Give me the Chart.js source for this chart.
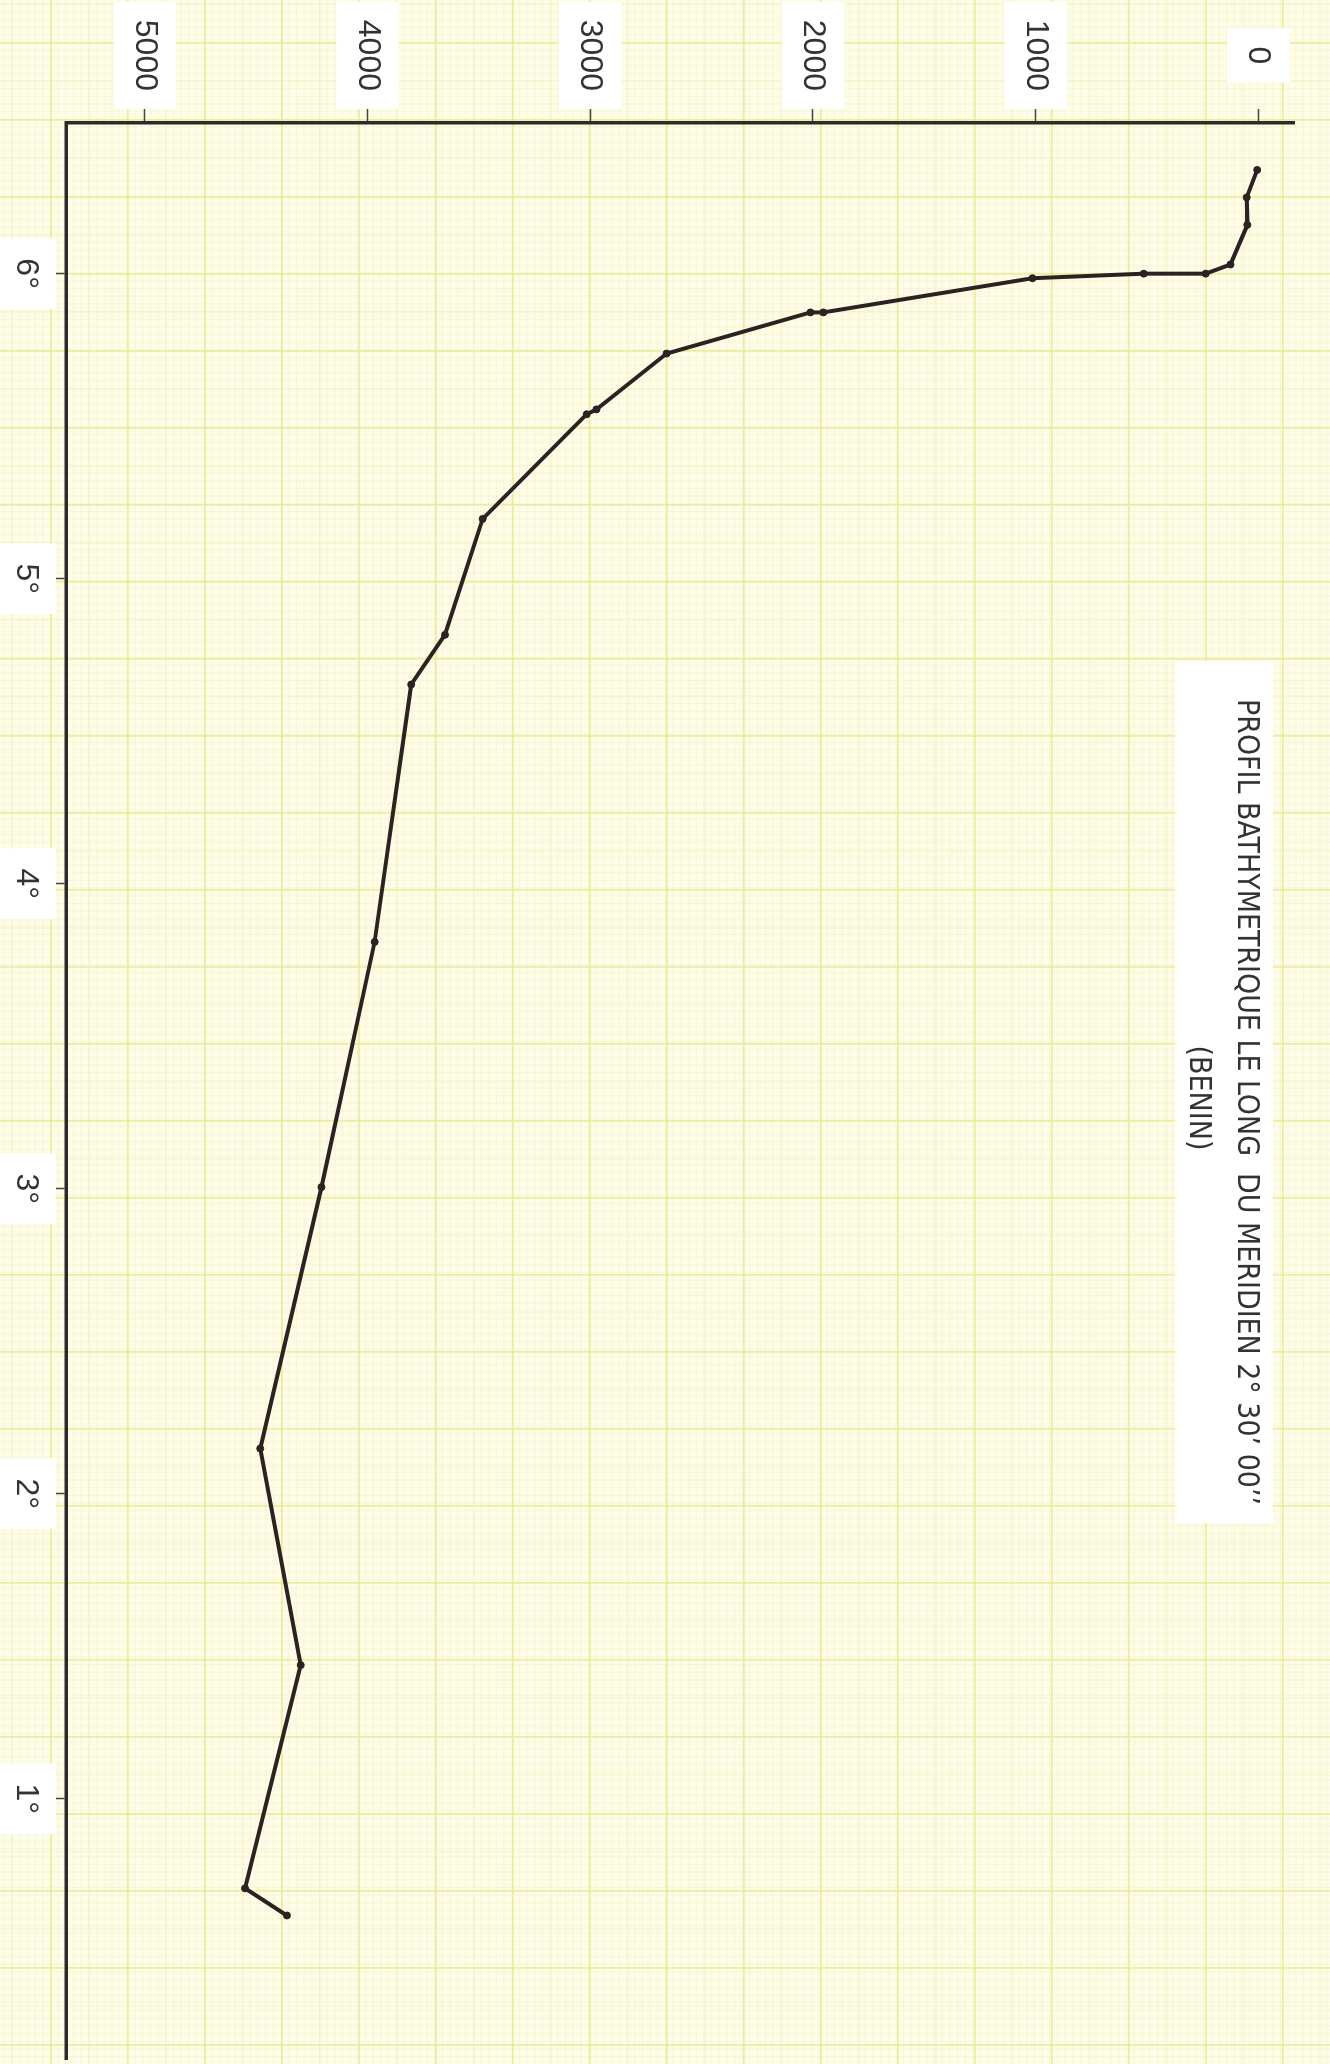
<!DOCTYPE html>
<html lang="fr">
<head>
<meta charset="utf-8">
<title>Profil bathymétrique le long du méridien 2° 30' 00''</title>
<script src="https://cdn.jsdelivr.net/npm/chart.js@4.4.1/dist/chart.umd.min.js"></script>
<style>
  html, body { margin: 0; padding: 0; }
  body {
    width: 1330px;
    height: 2064px;
    overflow: hidden;
    position: relative;
    /* graph paper */
    background-color: #fdfce6;
    background-image:
      linear-gradient(to right, rgba(228, 234, 140, 0.6) 2px, transparent 2px),
      linear-gradient(to bottom, rgba(228, 234, 140, 0.6) 2px, transparent 2px),
      linear-gradient(to right, rgba(234, 238, 170, 0.45) 1px, transparent 1px),
      linear-gradient(to bottom, rgba(234, 238, 170, 0.45) 1px, transparent 1px),
      linear-gradient(to right, rgba(238, 238, 195, 0.45) 1px, transparent 1px),
      linear-gradient(to bottom, rgba(238, 238, 195, 0.45) 1px, transparent 1px);
    background-size: 77px 77px, 77px 77px, 38.5px 38.5px, 38.5px 38.5px, 7.7px 7.7px, 7.7px 7.7px;
    background-position: 50px 42px, 50px 42px, 50px 42px, 50px 42px, 50px 42px, 50px 42px;
  }
  /* the sheet was drawn in landscape and scanned turned a quarter clockwise */
  #sheet {
    position: absolute;
    left: 0;
    top: 0;
    width: 2064px;
    height: 1330px;
    transform-origin: 0 0;
    transform: translate(1330px, 0) rotate(90deg);
  }
  canvas { display: block; }
</style>
</head>
<body>
<div id="sheet"><canvas id="profil" width="2064" height="1330"></canvas></div>

<script>
// Points along the profile (latitude in degrees N, depth in metres)
const latitudes = [6.34, 6.25, 6.16, 6.03, 6.00, 6.00, 5.985, 5.873, 5.873, 5.738, 5.555,
                   5.539, 5.196, 4.816, 4.653, 3.809, 3.005, 2.148, 1.438, 0.706, 0.617];
const depths = [5, 52, 49, 125, 236, 514, 1014, 1953, 2011, 2657, 2972,
                3016, 3483, 3652, 3804, 3968, 4207, 4482, 4300, 4550, 4362];

// Axis ticks
const depthTicks = [0, 1000, 2000, 3000, 4000, 5000];
const latitudeTicks = [1, 2, 3, 4, 5, 6];

const titleLines = ["PROFIL BATHYMETRIQUE LE LONG  DU MERIDIEN 2\u00b0 30\u2019 00\u2019\u2019", "(BENIN)"];

const ink = "#2c2222";
const labelFont = { family: "'Liberation Sans', Arial, sans-serif", size: 32 };

// White pasted label with the title
const titleBox = {
  id: "titleBox",
  afterDraw(chart) {
    const ctx = chart.ctx;
    ctx.save();
    ctx.fillStyle = "#ffffff";
    ctx.fillRect(661, 57, 862, 98);
    ctx.fillStyle = "#333333";
    ctx.font = "30px 'Liberation Sans Narrow', 'DejaVu Sans Condensed', sans-serif";
    ctx.textAlign = "center";
    ctx.textBaseline = "middle";
    ctx.fillText(titleLines[0], 1102, 84, 806);
    ctx.fillText(titleLines[1], 1098, 132);
    ctx.restore();
  }
};

const points = latitudes.map((lat, i) => ({ x: lat, y: depths[i] }));

new Chart(document.getElementById("profil").getContext("2d"), {
  type: "scatter",
  data: {
    datasets: [{
      data: points,
      showLine: true,
      borderColor: ink,
      backgroundColor: ink,
      borderWidth: 4,
      tension: 0,
      pointRadius: 3.5,
      pointBorderWidth: 1
    }]
  },
  options: {
    responsive: false,
    animation: false,
    layout: { padding: { top: 20, left: 0, right: 0, bottom: 0 } },
    plugins: {
      legend: { display: false },
      tooltip: { enabled: false }
    },
    scales: {
      x: {
        type: "linear",
        reverse: true,
        min: 0.1465,
        max: 6.494,
        afterBuildTicks: s => { s.ticks = latitudeTicks.map(v => ({ value: v })); },
        afterFit: s => { s.height = 66; },
        ticks: {
          callback: v => v + "\u00b0",
          font: labelFont,
          color: "#333333",
          padding: 11,
          autoSkip: false,
          maxRotation: 0,
          showLabelBackdrop: true,
          backdropColor: "#ffffff",
          backdropPadding: { top: 11, bottom: 11, left: 20, right: 20 }
        },
        grid: { drawOnChartArea: false, drawTicks: true, tickLength: 10, tickColor: "#444", tickWidth: 1.5 },
        border: { display: true, color: "#2b2b2b", width: 3.5 }
      },
      y: {
        type: "linear",
        reverse: true,
        min: -155,
        max: 5354,
        afterBuildTicks: s => { s.ticks = depthTicks.map(v => ({ value: v })); },
        afterFit: s => { s.width = 123; },
        ticks: {
          callback: v => String(v),
          font: labelFont,
          color: "#333333",
          padding: 18,
          crossAlign: "center",
          autoSkip: false,
          showLabelBackdrop: true,
          backdropColor: "#ffffff",
          backdropPadding: { top: 12, bottom: 12, left: 18, right: 18 }
        },
        grid: { drawOnChartArea: false, drawTicks: true, tickLength: 14, tickColor: "#444", tickWidth: 1.5 },
        border: { display: true, color: "#2b2b2b", width: 3.5 }
      }
    }
  },
  plugins: [titleBox]
});
</script>
</body>
</html>
